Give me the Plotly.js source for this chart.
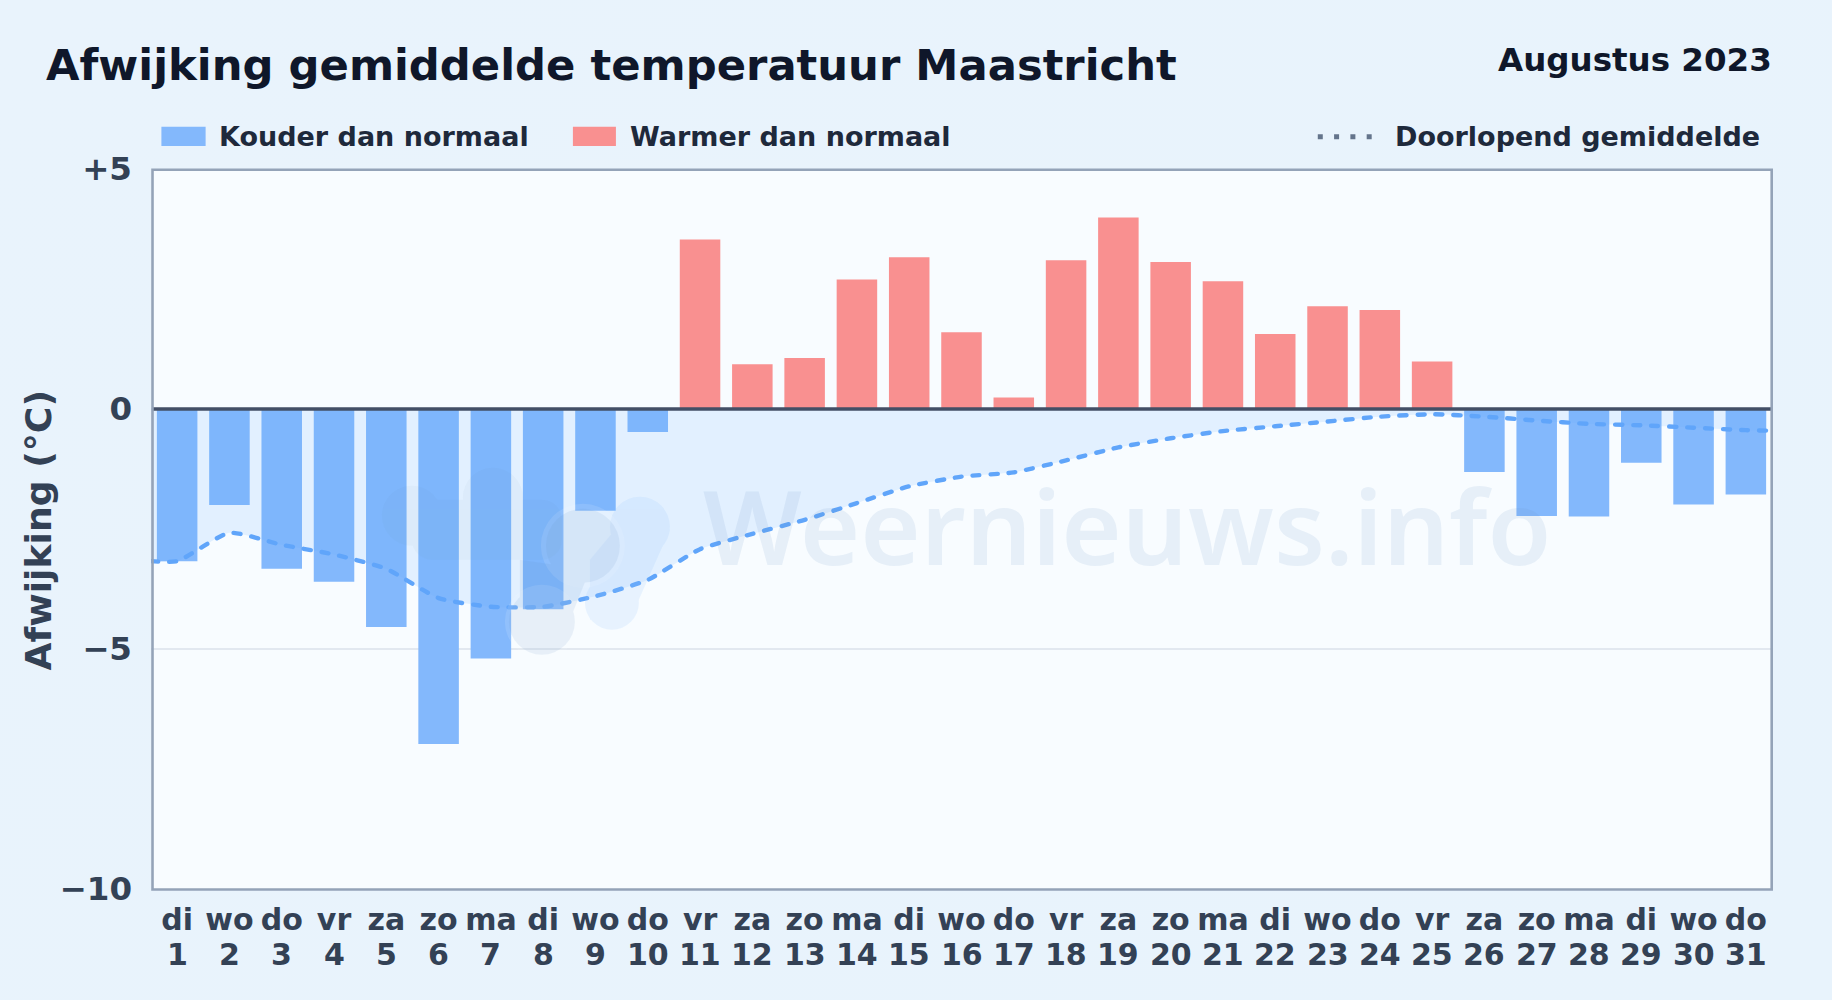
<!DOCTYPE html>
<html>
<head>
<meta charset="utf-8">
<script src="https://cdn.plot.ly/plotly-3.0.1.min.js"></script>
<style>
html,body{margin:0;padding:0;width:1832px;height:1000px;overflow:hidden;background:linear-gradient(135deg,#e9f3fc 0%,#e8f3fc 100%);}
#chart{width:1832px;height:1000px;}
.scatterlayer .js-line{stroke-linecap:round;}
</style>
</head>
<body>
<div id="chart"></div>
<script>
const weekdays = ["di","wo","do","vr","za","zo","ma","di","wo","do","vr","za","zo","ma","di","wo","do","vr","za","zo","ma","di","wo","do","vr","za","zo","ma","di","wo","do"];
const days = [1,2,3,4,5,6,7,8,9,10,11,12,13,14,15,16,17,18,19,20,21,22,23,24,25,26,27,28,29,30,31];
const deviations = [-3.17,-2.0,-3.33,-3.6,-4.54,-6.98,-5.2,-4.17,-2.12,-0.48,3.53,0.93,1.06,2.70,3.16,1.60,0.24,3.10,3.99,3.06,2.66,1.56,2.14,2.06,0.99,-1.31,-2.23,-2.24,-1.12,-1.99,-1.78];
const runningX = [-0.5,0,1,2,3,4,5,6,7,8,9,10,11,12,13,14,15,16,17,18,19,20,21,22,23,24,25,26,27,28,29,30,30.4];
const runningMean = [-3.17,-3.17,-2.58,-2.83,-3.03,-3.33,-3.94,-4.12,-4.12,-3.90,-3.56,-2.92,-2.60,-2.31,-1.96,-1.61,-1.41,-1.32,-1.07,-0.80,-0.61,-0.46,-0.36,-0.26,-0.16,-0.11,-0.16,-0.24,-0.31,-0.34,-0.39,-0.44,-0.45];
const yTickVals = [5,0,-5,-10];
const yTickText = ["+5","0","\u22125","\u221210"];
const titleText = "Afwijking gemiddelde temperatuur Maastricht";
const periodText = "Augustus 2023";
const yTitleText = "Afwijking (\u00b0C)";
const coldName = "Kouder dan normaal";
const warmName = "Warmer dan normaal";
const meanName = "Doorlopend gemiddelde";
const brandText = "Weernieuws.info";

const FONT = "DejaVu Sans";
const W = 1832, H = 1000;
const L = 151.2, R = 60.2, T = 169, B = 110.5;
const PW = W - L - R, PH = H - T - B;
const px = v => (v - L) / PW, py = v => (H - B - v) / PH;
const x = days.map((d,i)=>i);

const traces = [
 {type:"bar",name:coldName,x:x.filter(i=>deviations[i]<0),y:deviations.filter(v=>v<0),width:0.775,marker:{color:"#83b8fc",line:{width:0}},showlegend:false,hoverinfo:"skip"},
 {type:"bar",name:warmName,x:x.filter(i=>deviations[i]>=0),y:deviations.filter(v=>v>=0),width:0.775,marker:{color:"#f99090",line:{width:0}},showlegend:false,hoverinfo:"skip"},
 {type:"scatter",mode:"lines",name:meanName,x:runningX,y:runningMean,fill:"tozeroy",fillcolor:"rgba(100,175,255,0.15)",
  line:{color:"#60a5fa",width:4.4,shape:"spline",smoothing:0.55,dash:"7px,11px"},showlegend:false,hoverinfo:"skip"}
];

function txt(t,xp,yp,size,color,anchor,extra){return Object.assign({text:t,xref:"paper",yref:"paper",x:px(xp),y:py(yp),xanchor:anchor,yanchor:"middle",showarrow:false,font:{family:FONT,size:size,color:color,weight:700}},extra||{});}

const logo = `<svg xmlns="http://www.w3.org/2000/svg" viewBox="370 440 320 240" width="320" height="240">
<g fill="#93c5fd" opacity="0.16"><circle cx="640" cy="527" r="30"/><circle cx="612" cy="603" r="27"/><path d="M640 500 L590 560 L590 620 L630 620 L670 530 Z"/></g>
<g fill="#f8fcff" opacity="0.12"><circle cx="583" cy="546" r="42"/><circle cx="542" cy="622" r="37"/></g>
<g fill="#5b8abf" opacity="0.10"><circle cx="542" cy="622" r="33"/><circle cx="583" cy="546" r="37"/><path d="M520 560 L590 570 L570 620 L520 610 Z"/></g>
<g fill="#5b8a8f" opacity="0.04"><circle cx="493" cy="498" r="30"/><circle cx="412" cy="516" r="30"/><rect x="412" y="500" width="150" height="60" rx="20"/></g>
</svg>`;

const layout = {
 width:W,height:H,
 paper_bgcolor:"rgba(0,0,0,0)",plot_bgcolor:"#f8fcff",
 margin:{l:L,r:R,t:T,b:B,pad:0},
 barmode:"overlay",showlegend:false,
 font:{family:FONT,color:"#334155"},
 xaxis:{range:[-0.5,30.5],tickmode:"array",tickvals:x,ticktext:weekdays,tickangle:0,ticks:"",showgrid:false,zeroline:false,showline:false,
  ticklabelstandoff:10,tickfont:{family:FONT,size:30,color:"#334155",weight:700}},
 yaxis:{range:[-10,5],tickmode:"array",tickvals:yTickVals,ticktext:yTickText,ticks:"",showgrid:true,gridcolor:"#e2e8f0",gridwidth:1.5,
  zeroline:false,showline:false,ticklabelstandoff:18,
  tickfont:{family:FONT,size:32.5,color:"#334155",weight:700}},
 images:[{source:"data:image/svg+xml;utf8,"+encodeURIComponent(logo),xref:"paper",yref:"paper",x:px(370),y:py(440),sizex:320/PW,sizey:240/PH,sizing:"stretch",xanchor:"left",yanchor:"top",layer:"above"}],
 shapes:[
  {type:"line",xref:"paper",yref:"y",x0:px(152.7),x1:px(1771.5),y0:0,y1:0,line:{color:"#434f66",width:3.4},layer:"above"},
  {type:"rect",xref:"paper",yref:"paper",x0:px(152.7),x1:px(1771.5),y0:py(890),y1:py(169.7),line:{color:"#94a3b8",width:2.6},layer:"above"},
  {type:"rect",xref:"paper",yref:"paper",x0:px(161.6),x1:px(205.8),y0:py(146),y1:py(126.7),fillcolor:"#83b8fc",line:{width:0}},
  {type:"rect",xref:"paper",yref:"paper",x0:px(573),x1:px(616),y0:py(146),y1:py(126.7),fillcolor:"#f99090",line:{width:0}},
  {type:"line",xref:"paper",yref:"paper",x0:px(1317.7),x1:px(1372.5),y0:py(136.7),y1:py(136.7),line:{color:"#64748b",width:5,dash:"5px,11.3px"}}
 ],
 annotations:[
  txt(brandText,701,525,103.6,"rgba(110,150,200,0.12)","left",{font:{family:"Noto Sans",size:103.6,color:"rgba(110,150,200,0.12)",weight:600}}),
  txt(titleText,44,65,43.3,"#0f172a","left"),
  txt(periodText,1774,60,32.5,"#0f172a","right"),
  txt(coldName,217,136.5,27,"#1e293b","left"),
  txt(warmName,628,136.5,27,"#1e293b","left"),
  txt(meanName,1762,136.5,27,"#1e293b","right"),
  txt(yTitleText,38.5,530.5,36.2,"#334155","center",{textangle:-90})
 ].concat(days.map((d,i)=>({text:String(d),xref:"x",yref:"paper",x:i,y:py(955),xanchor:"center",yanchor:"middle",showarrow:false,font:{family:FONT,size:30,color:"#334155",weight:700}})))
};
Plotly.newPlot("chart",traces,layout,{displayModeBar:false,staticPlot:true});
</script>
</body>
</html>
